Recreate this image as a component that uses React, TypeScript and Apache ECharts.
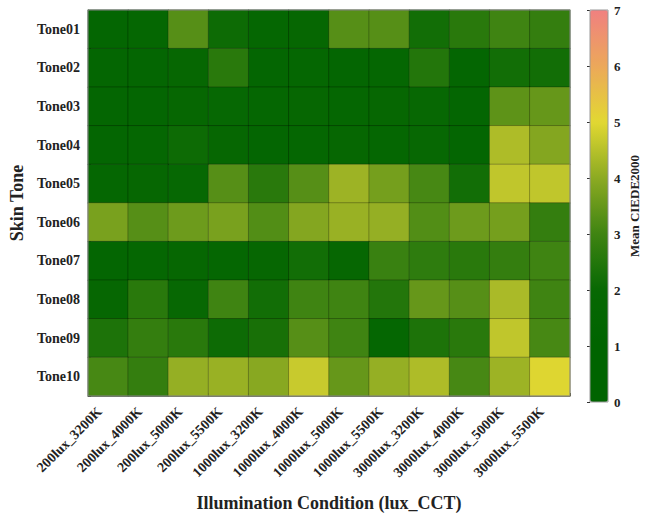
import React, { useEffect, useRef } from "react";
import * as echarts from "echarts";

const conditions = [
  "200lux_3200K", "200lux_4000K", "200lux_5000K", "200lux_5500K",
  "1000lux_3200K", "1000lux_4000K", "1000lux_5000K", "1000lux_5500K",
  "3000lux_3200K", "3000lux_4000K", "3000lux_5000K", "3000lux_5500K",
];
const tones = ["Tone01", "Tone02", "Tone03", "Tone04", "Tone05", "Tone06", "Tone07", "Tone08", "Tone09", "Tone10"];

const tone01 = [1.6, 1.7, 3.3, 2.1, 1.7, 1.8, 3.3, 3.3, 2.2, 2.6, 3.0, 2.8];
const tone02 = [1.5, 1.6, 1.8, 2.6, 1.6, 1.7, 1.6, 1.7, 2.5, 1.5, 2.2, 2.2];
const tone03 = [1.6, 1.6, 1.8, 1.9, 1.7, 1.8, 1.7, 1.8, 2.0, 1.6, 3.4, 3.5];
const tone04 = [1.5, 1.7, 2.1, 1.8, 1.6, 1.7, 1.8, 1.7, 2.0, 1.6, 4.4, 3.9];
const tone05 = [1.7, 1.8, 1.9, 3.3, 2.6, 3.3, 4.2, 3.7, 3.1, 2.2, 4.6, 4.6];
const tone06 = [3.75, 3.3, 3.6, 3.75, 3.25, 3.9, 4.15, 4.1, 3.25, 3.6, 3.7, 2.8];
const tone07 = [1.6, 1.7, 1.8, 1.7, 1.8, 2.2, 1.8, 2.9, 2.7, 2.6, 2.8, 3.0];
const tone08 = [1.8, 2.6, 2.0, 3.0, 2.2, 3.0, 3.0, 2.5, 3.5, 3.3, 4.35, 3.0];
const tone09 = [2.4, 2.8, 2.6, 2.1, 2.3, 3.3, 3.0, 1.7, 2.4, 2.6, 4.6, 3.1];
const tone10 = [3.1, 2.8, 4.1, 4.15, 3.95, 4.7, 3.5, 4.1, 4.4, 3.1, 4.2, 4.95];
const rows = [tone01, tone02, tone03, tone04, tone05, tone06, tone07, tone08, tone09, tone10];

const colorStops = ["#006400", "#006400", "#076803", "#3f8412", "#8caa22", "#e2d832", "#eca85a", "#f08080"];
const scaleMin = 0;
const scaleMax = 7;

const FONT = "'Liberation Serif', 'DejaVu Serif', serif";

export default function App() {
  const ref = useRef<HTMLDivElement>(null);
  useEffect(() => {
    if (!ref.current) return;
    const chart = echarts.init(ref.current, null, { renderer: "svg" });
    const data: number[][] = [];
    rows.forEach((r, yi) => r.forEach((v, xi) => data.push([xi, yi, v])));
    chart.setOption({
      animation: false,
      backgroundColor: "#ffffff",
      textStyle: { fontFamily: FONT },
      grid: [
        { left: 88, top: 10, width: 482, height: 392, show: true, borderColor: "#888", borderWidth: 1, backgroundColor: "transparent", z: 10 },
        { left: 590, top: 10, width: 18, height: 392, show: true, borderColor: "#999", borderWidth: 1, backgroundColor: "transparent", z: 10 },
      ],
      xAxis: [
        {
          type: "category",
          gridIndex: 0,
          data: conditions,
          name: "Illumination Condition (lux_CCT)",
          nameLocation: "middle",
          nameGap: 98,
          nameTextStyle: { fontFamily: FONT, fontWeight: "bold", fontSize: 18, color: "#222" },
          axisLine: { show: true, lineStyle: { color: "#888" } },
          axisTick: { show: true, inside: true, length: 3, lineStyle: { color: "#333" } },
          axisLabel: { rotate: 45, margin: 5, padding: [0, 12, 0, 0], fontFamily: FONT, fontWeight: "bold", fontSize: 14, color: "#222", interval: 0 },
          splitLine: { show: false },
        },
        { type: "value", gridIndex: 1, show: false, min: 0, max: 1 },
      ],
      yAxis: [
        {
          type: "category",
          gridIndex: 0,
          data: tones,
          inverse: true,
          name: "Skin Tone",
          nameLocation: "middle",
          nameGap: 61,
          nameRotate: 90,
          nameTextStyle: { fontFamily: FONT, fontWeight: "bold", fontSize: 18, color: "#222" },
          axisLine: { show: true, lineStyle: { color: "#888" } },
          axisTick: { show: true, inside: true, length: 3, lineStyle: { color: "#333" } },
          axisLabel: { margin: 8, fontFamily: FONT, fontWeight: "bold", fontSize: 14, color: "#222" },
          splitLine: { show: false },
        },
        {
          type: "value",
          gridIndex: 1,
          position: "right",
          min: scaleMin,
          max: scaleMax,
          interval: 1,
          name: "Mean CIEDE2000",
          nameLocation: "middle",
          nameGap: 20,
          nameRotate: 90,
          nameTextStyle: { fontFamily: FONT, fontWeight: "bold", fontSize: 13, color: "#222", verticalAlign: "top" },
          axisLine: { show: false },
          axisTick: { show: true, inside: true, length: 3, lineStyle: { color: "#333" } },
          axisLabel: { margin: 6, fontFamily: FONT, fontWeight: "bold", fontSize: 13, color: "#222" },
          splitLine: { show: false },
        },
      ],
      visualMap: {
        type: "continuous",
        min: scaleMin,
        max: scaleMax,
        seriesIndex: 0,
        calculable: false,
        left: 590,
        top: 10,
        padding: 0,
        itemWidth: 18,
        itemHeight: 392,
        text: ["", ""],
        inRange: { color: colorStops },
      },
      series: [
        {
          type: "heatmap",
          xAxisIndex: 0,
          yAxisIndex: 0,
          data,
          itemStyle: { borderColor: "rgba(0,0,0,0.25)", borderWidth: 1 },
          label: { show: false },
          emphasis: { disabled: true },
        },
      ],
    });
    return () => chart.dispose();
  }, []);
  return <div ref={ref} style={{ position: "absolute", left: 0, top: 0, width: 649, height: 517, background: "#fff" }} />;
}
